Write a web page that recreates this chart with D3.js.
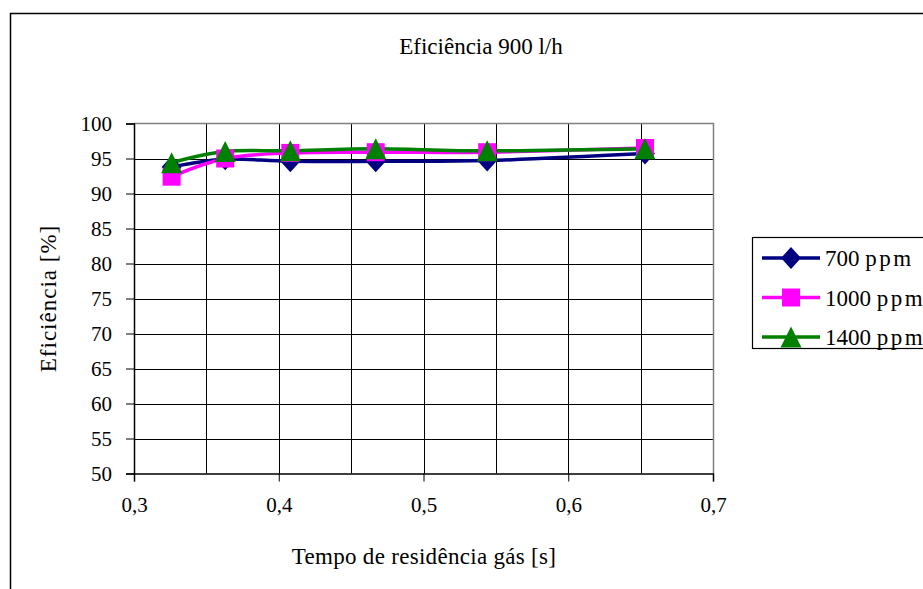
<!DOCTYPE html>
<html>
<head>
<meta charset="utf-8">
<script src="https://cdn.jsdelivr.net/npm/d3@7"></script>
<style>
  body { margin: 0; background: #fff; }
  text { font-family: "Liberation Serif", "Times New Roman", serif; fill: #000; }
</style>
</head>
<body>
<svg></svg>
<script>
let width = 923;
let height = 589;

// data
let tempo = [0.326, 0.363, 0.408, 0.467, 0.544, 0.653];
let ppm700 = [93.8, 94.9, 94.6, 94.6, 94.7, 95.7];
let ppm1000 = [92.4, 95.0, 95.8, 95.9, 95.9, 96.5];
let ppm1400 = [94.4, 96.0, 96.1, 96.4, 96.1, 96.4];
let seriesNames = ['700 ppm', '1000 ppm', '1400 ppm'];
let xTicks = [0.3, 0.4, 0.5, 0.6, 0.7];
let yTicks = [50, 55, 60, 65, 70, 75, 80, 85, 90, 95, 100];

// excel-like marker shapes (size = box width)
let diamond = {
  draw(ctx, size) {
    let w = size / 2, h = size / 2 + 1;
    ctx.moveTo(0, -h); ctx.lineTo(w, 0); ctx.lineTo(0, h); ctx.lineTo(-w, 0); ctx.closePath();
  }
};
let square = {
  draw(ctx, size) {
    let s = size / 2;
    ctx.rect(-s, -s, size, size);
  }
};
let triangle = {
  draw(ctx, size) {
    let w = size / 2, h = size / 2;
    ctx.moveTo(0, -h); ctx.lineTo(w, h); ctx.lineTo(-w, h); ctx.closePath();
  }
};

let series = [
  { name: seriesNames[0], values: ppm700, color: '#000080', symbol: diamond, size: 20 },
  { name: seriesNames[1], values: ppm1000, color: '#ff00ff', symbol: square, size: 18 },
  { name: seriesNames[2], values: ppm1400, color: '#008000', symbol: triangle, size: 21 }
];

let serif = '"Liberation Serif", "Times New Roman", serif';

let svg = d3.select('svg')
            .attr('width', width)
            .attr('height', height);

// outer chart frame (runs off the picture at right and bottom)
svg.append('rect')
   .attr('x', 10.5).attr('y', 13.5)
   .attr('width', 1000).attr('height', 700)
   .attr('fill', 'none').attr('stroke', '#000').attr('stroke-width', 1.5);

let plot = { left: 134, right: 713, top: 123.5, bottom: 473.5 };

let x = d3.scaleLinear().domain([0.3, 0.7]).range([plot.left, plot.right]);
let y = d3.scaleLinear().domain([50, 100]).range([plot.bottom, plot.top]);

// gridlines
svg.append('g')
   .selectAll('line')
   .data(d3.range(0.35, 0.7, 0.05))
   .enter()
   .append('line')
   .attr('x1', d => Math.round(x(d)) + 0.5).attr('x2', d => Math.round(x(d)) + 0.5)
   .attr('y1', plot.top).attr('y2', plot.bottom)
   .attr('stroke', '#000').attr('stroke-width', 1);

svg.append('g')
   .selectAll('line')
   .data(yTicks.slice(1, -1))
   .enter()
   .append('line')
   .attr('x1', plot.left).attr('x2', plot.right)
   .attr('y1', d => Math.round(y(d)) + 0.5).attr('y2', d => Math.round(y(d)) + 0.5)
   .attr('stroke', '#000').attr('stroke-width', 1);

// top and right border in grey
svg.append('path')
   .attr('d', `M${plot.left},${plot.top}H${plot.right + 0.5}V${plot.bottom}`)
   .attr('fill', 'none').attr('stroke', '#808080').attr('stroke-width', 1.5);

// axes
let xAxis = svg.append('g')
   .attr('transform', `translate(0,${plot.bottom})`)
   .call(d3.axisBottom(x).tickValues(xTicks).tickSize(8).tickPadding(16)
           .tickFormat(d => d3.format('.1f')(d).replace('.', ',')));

let yAxis = svg.append('g')
   .attr('transform', `translate(${plot.left},0)`)
   .call(d3.axisLeft(y).tickValues(yTicks).tickSize(8).tickPadding(14));

[xAxis, yAxis].forEach(a => {
  a.attr('font-family', serif).attr('font-size', 21);
  a.select('.domain').attr('stroke', '#000').attr('stroke-width', 1.5);
  a.selectAll('.tick line').attr('stroke', '#000');
  a.selectAll('text').attr('fill', '#000').style('font-family', serif);
});

// lines and markers
let line = d3.line()
  .x((d, i) => x(tempo[i]))
  .y(d => y(d))
  .curve(d3.curveCardinal.tension(0));

series.forEach(s => {
  svg.append('path')
     .datum(s.values)
     .attr('d', line)
     .attr('fill', 'none')
     .attr('stroke', s.color)
     .attr('stroke-width', 3.5);
});

series.forEach(s => {
  svg.append('g')
     .selectAll('path')
     .data(s.values)
     .enter()
     .append('path')
     .attr('d', d3.symbol().type(s.symbol).size(s.size))
     .attr('transform', (d, i) => `translate(${x(tempo[i])},${y(d)})`)
     .attr('fill', s.color);
});

// titles
svg.append('text')
   .attr('x', 481).attr('y', 54)
   .attr('text-anchor', 'middle')
   .style('font-size', '23px')
   .text('Eficiência 900 l/h');

svg.append('text')
   .attr('x', 424).attr('y', 564)
   .attr('text-anchor', 'middle')
   .style('font-size', '23px')
   .style('letter-spacing', '0.3px')
   .text('Tempo de residência gás [s]');

svg.append('text')
   .attr('transform', `translate(56,${(plot.top + plot.bottom) / 2}) rotate(-90)`)
   .attr('text-anchor', 'middle')
   .style('font-size', '23px')
   .style('letter-spacing', '1px')
   .text('Eficiência [%]');

// legend
let legend = svg.append('g');
legend.append('rect')
   .attr('x', 752.5).attr('y', 237.5)
   .attr('width', 300).attr('height', 111)
   .attr('fill', '#fff').attr('stroke', '#000').attr('stroke-width', 1.2);

let legendY = d3.scalePoint().domain(seriesNames).range([258, 337]);

series.forEach(s => {
  let gy = legendY(s.name);
  legend.append('line')
     .attr('x1', 762).attr('x2', 820)
     .attr('y1', gy).attr('y2', gy)
     .attr('stroke', s.color).attr('stroke-width', 3.5);
  legend.append('path')
     .attr('d', d3.symbol().type(s.symbol).size(s.size))
     .attr('transform', `translate(791,${gy})`)
     .attr('fill', s.color);
  let parts = s.name.split(' ');
  let t = legend.append('text')
     .attr('x', 825).attr('y', gy + 8)
     .style('font-size', '23px');
  t.append('tspan').text(parts[0] + ' ');
  t.append('tspan').style('letter-spacing', '2.5px').text(parts[1]);
});
</script>
</body>
</html>
